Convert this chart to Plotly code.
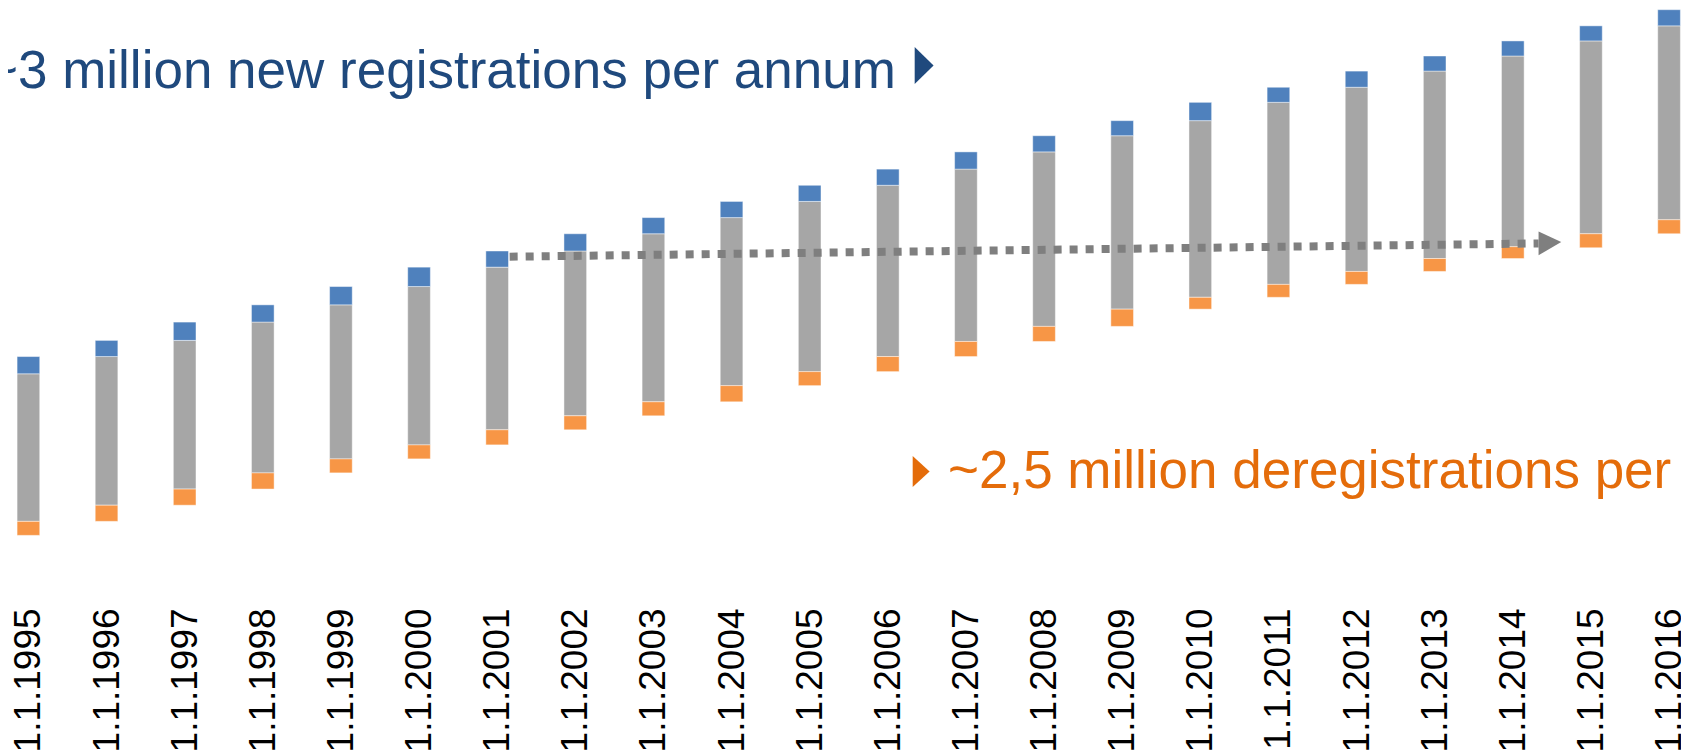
import plotly.graph_objects as go

# Fahrzeugbestand je Stichtag (Skala des Bildes, keine Achse sichtbar)
stichtage = ["1.1.%d" % j for j in range(1995, 2017)]
bestand_unten = [78, 93, 108, 123, 136, 149, 163, 176, 189, 204, 217,
                 231, 245, 259, 275, 286, 298, 310, 322, 333, 345, 358]
bestand_oben = [215, 231, 246, 263, 279, 296, 314, 329, 345, 360, 375,
                390, 405, 421, 436, 450, 467, 481, 496, 510, 524, 538]
neuzulassungen = [16, 15, 17, 16, 17, 18, 15, 16, 15, 15, 15,
                  15, 16, 15, 14, 17, 14, 15, 14, 14, 14, 15]
abmeldungen = [13, 15, 15, 15, 13, 13, 14, 13, 13, 15, 13,
               14, 14, 14, 16, 11, 12, 12, 12, 11, 13, 13]

# Pfeil: vom Bestand 1.1.2001 bis zu den Abmeldungen 1.1.2015
pfeil_x = [6.16, 19.33]
pfeil_y = [323.7, 336.0]
pfeil_spitze = 19.62

# Seite hat 8px Rand im Browser -> Figur etwas kleiner
RAND = 8
SEITE_B, SEITE_H = 1689, 755
BREITE, HOEHE = SEITE_B - RAND, SEITE_H - RAND
PLOT_UNTEN = 600          # Unterkante Plotbereich (Seitenpixel)
SKALA = 1.0772            # Pixel je Einheit
V_NULL = 562              # Einheit bei Seitenpixel 0
STEP, X0 = 78.5, 27.5     # Abstand der Balken, Mitte des ersten

GRAU = "#A6A6A6"
BLAU = "#4F81BD"
ORANGE = "#F79646"
TEXT_BLAU = "#1F497D"
TEXT_ORANGE = "#E46C0A"
SCHRIFT = "Arial, 'Liberation Sans', sans-serif"

x = list(range(len(stichtage)))
rand = dict(color="rgba(255,255,255,0.45)", width=1)

fig = go.Figure()
fig.add_trace(go.Bar(
    x=x, y=[o - u for o, u in zip(bestand_oben, bestand_unten)],
    base=bestand_unten, width=0.29,
    marker=dict(color=GRAU, line=rand),
))
fig.add_trace(go.Bar(
    x=x, y=neuzulassungen, base=bestand_oben, width=0.29,
    marker=dict(color=BLAU, line=rand),
))
fig.add_trace(go.Bar(
    x=x, y=abmeldungen,
    base=[u - a for u, a in zip(bestand_unten, abmeldungen)], width=0.29,
    marker=dict(color=ORANGE, line=rand),
))


def px_x(p):
    return (p - RAND) / (SEITE_B - RAND)


def px_y(p):
    return (PLOT_UNTEN - p) / (PLOT_UNTEN - RAND)


# gestrichelter Pfeil
fig.add_shape(type="line", x0=pfeil_x[0], x1=pfeil_x[1],
              y0=pfeil_y[0], y1=pfeil_y[1],
              line=dict(color="#7F7F7F", width=8, dash="dot"))
spitze_h = 11.0
fig.add_shape(
    type="path",
    path="M %f,%f L %f,%f L %f,%f Z" % (
        pfeil_x[1], pfeil_y[1] + spitze_h, pfeil_spitze, pfeil_y[1] + 1.3,
        pfeil_x[1], pfeil_y[1] - spitze_h),
    fillcolor="#7F7F7F", line=dict(width=0),
)

# Dreiecke neben den Texten
for (x0, y0, x1, y1), farbe in [((918, 47, 937, 84), TEXT_BLAU),
                                 ((916, 456, 933, 487), TEXT_ORANGE)]:
    fig.add_shape(
        type="path", xref="paper", yref="paper",
        path="M %f,%f L %f,%f L %f,%f Z" % (
            px_x(x0), px_y(y0), px_x(x1), px_y((y0 + y1) / 2),
            px_x(x0), px_y(y1)),
        fillcolor=farbe, line=dict(width=0),
    )

fig.add_annotation(
    text="~3 million new registrations per annum",
    xref="paper", yref="paper", x=px_x(901), y=px_y(69),
    xanchor="right", yanchor="middle", showarrow=False,
    font=dict(family=SCHRIFT, size=53, color=TEXT_BLAU),
)
fig.add_annotation(
    text="~2,5 million deregistrations per",
    xref="paper", yref="paper", x=px_x(949), y=px_y(469),
    xanchor="left", yanchor="middle", showarrow=False,
    font=dict(family=SCHRIFT, size=53, color=TEXT_ORANGE),
)

fig.update_layout(
    width=BREITE, height=HOEHE,
    margin=dict(l=0, r=0, t=0, b=SEITE_H - PLOT_UNTEN),
    barmode="overlay",
    showlegend=False,
    plot_bgcolor="white",
    paper_bgcolor="white",
    hovermode=False,
    xaxis=dict(
        range=[(RAND - X0) / STEP, (SEITE_B - X0) / STEP],
        tickmode="array", tickvals=x, ticktext=stichtage,
        tickangle=-90, showgrid=False, zeroline=False, showline=False,
        ticks="", ticklabeloverflow="allow",
        tickfont=dict(family=SCHRIFT, size=37, color="black"),
    ),
    yaxis=dict(range=[V_NULL - PLOT_UNTEN / SKALA, V_NULL - RAND / SKALA],
               visible=False),
)

fig.write_html("out.html")
